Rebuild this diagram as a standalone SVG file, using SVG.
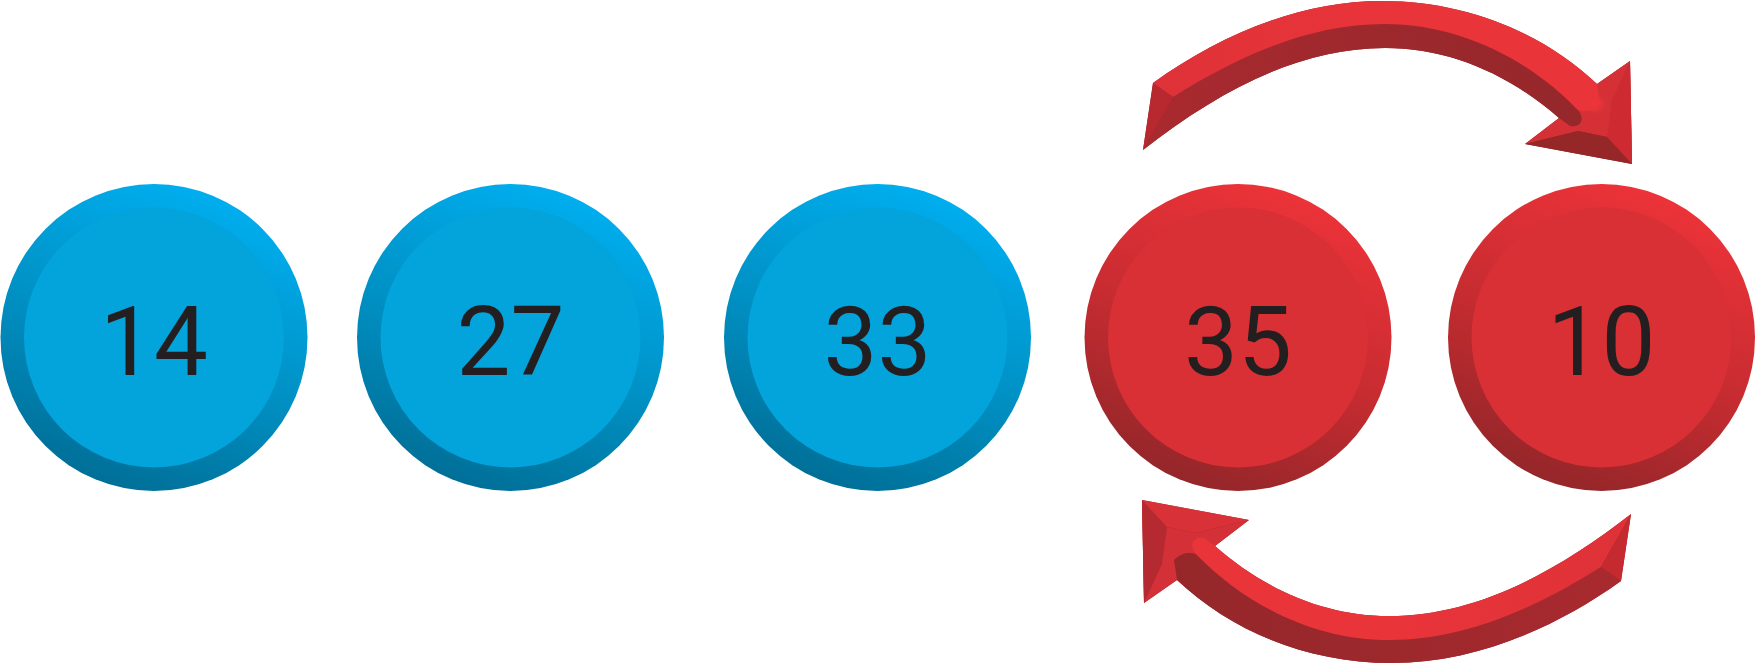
<svg xmlns="http://www.w3.org/2000/svg" width="1756" height="664" viewBox="0 0 1756 664">
<defs>
<linearGradient id="blueRing" x1="0.72" y1="0.04" x2="0.35" y2="1">
<stop offset="0" stop-color="#00AEEF"/><stop offset="0.5" stop-color="#0092C6"/><stop offset="1" stop-color="#006E96"/>
</linearGradient>
<linearGradient id="redRing" x1="0.72" y1="0.04" x2="0.35" y2="1">
<stop offset="0" stop-color="#EC3339"/><stop offset="0.5" stop-color="#C82C31"/><stop offset="1" stop-color="#922629"/>
</linearGradient>
<linearGradient id="darkFace" x1="1143" y1="0" x2="1632" y2="0" gradientUnits="userSpaceOnUse">
<stop offset="0" stop-color="#A92A2F"/><stop offset="0.6" stop-color="#9A282C"/><stop offset="1" stop-color="#942729"/>
</linearGradient>
<linearGradient id="brightFace" x1="1143" y1="0" x2="1632" y2="0" gradientUnits="userSpaceOnUse">
<stop offset="0" stop-color="#DE3238"/><stop offset="0.5" stop-color="#E9343A"/><stop offset="1" stop-color="#EA343A"/>
</linearGradient>
<radialGradient id="glow" cx="0.5" cy="0.5" r="0.5">
<stop offset="0" stop-color="#EE353B"/><stop offset="0.6" stop-color="#E9343A" stop-opacity="0.7"/><stop offset="1" stop-color="#E0323A" stop-opacity="0"/>
</radialGradient>
<path id="silhouette" d="M1153,83 C1220,35 1300,1 1382,1 C1470,1 1545,35 1597,84 L1630,61 L1632,164 L1525,144 L1559,118 C1510,75 1450,48 1385,48 C1300,48 1220,90 1143,150 Z"/>
<path id="headUpper" d="M1597,84 L1630,61 L1632,164 L1607,137 L1578,131 L1525,144 L1559,118 Z"/>
<path id="headRight" d="M1630,61 L1632,164 L1607,137 L1612,100 Z"/>
<path id="outerBand" d="M1153,83 C1220,35 1300,1 1382,1 C1470,1 1545,35 1597,84 L1600,104 C1592,112 1584,112 1578,110 C1530,60 1460,24 1385,24 C1310,24 1240,55 1173,97 Z"/>
<path id="innerBand" d="M1173,97 C1240,55 1310,24 1385,24 C1460,24 1530,60 1578,110 C1586,120 1580,128 1570,126 L1559,118 C1510,75 1450,48 1385,48 C1300,48 1220,90 1143,150 Z"/>
<path id="cap" d="M1153,83 L1173,97 L1143,150 Z"/>
<path id="headLower" d="M1525,144 L1578,131 L1607,137 L1632,164 Z"/>
</defs>
<style>
.ringB{fill:url(#blueRing)}
.coreB{fill:#03A3DC}
.ringR{fill:url(#redRing)}
.coreR{fill:#D93035}
.num{font-family:Roboto,"Liberation Sans",sans-serif;font-size:96px;fill:#231F20;text-anchor:middle}
</style>

<g id="connectors">
<g id="arrow-top">
<use href="#silhouette" fill="#9A282C"/>
<use href="#headUpper" fill="#D63037"/>
<use href="#headRight" fill="#CD2B31"/>
<use href="#innerBand" fill="url(#darkFace)"/>
<use href="#outerBand" fill="url(#brightFace)"/>
<ellipse cx="1594" cy="104" rx="13" ry="10" fill="url(#glow)"/>
<use href="#cap" fill="#B8292F"/>
<use href="#headLower" fill="#952729"/>
</g>
<g id="arrow-bottom" transform="rotate(180 1387 332)">
<use href="#silhouette" fill="#9A282C"/>
<use href="#headUpper" fill="#D33037"/>
<use href="#headRight" fill="#B42A30"/>
<use href="#outerBand" fill="url(#darkFace)"/>
<use href="#innerBand" fill="url(#brightFace)"/>
<use href="#cap" fill="#C52A30"/>
<use href="#headLower" fill="#D83137"/>
</g>
</g>

<g id="node-14">
<circle class="ringB" cx="154" cy="337.5" r="153.5"/>
<circle class="coreB" cx="154" cy="337.5" r="130"/>
<text class="num" x="154" y="375">14</text>
</g>
<g id="node-27">
<circle class="ringB" cx="510.5" cy="337.5" r="153.5"/>
<circle class="coreB" cx="510.5" cy="337.5" r="130"/>
<text class="num" x="510.5" y="375">27</text>
</g>
<g id="node-33">
<circle class="ringB" cx="877.5" cy="337.5" r="153.5"/>
<circle class="coreB" cx="877.5" cy="337.5" r="130"/>
<text class="num" x="877.5" y="375">33</text>
</g>
<g id="node-35">
<circle class="ringR" cx="1238" cy="337.5" r="153.5"/>
<circle class="coreR" cx="1238" cy="337.5" r="130"/>
<text class="num" x="1238" y="375">35</text>
</g>
<g id="node-10">
<circle class="ringR" cx="1601.5" cy="337.5" r="153.5"/>
<circle class="coreR" cx="1601.5" cy="337.5" r="130"/>
<text class="num" x="1601.5" y="375">10</text>
</g>
</svg>
